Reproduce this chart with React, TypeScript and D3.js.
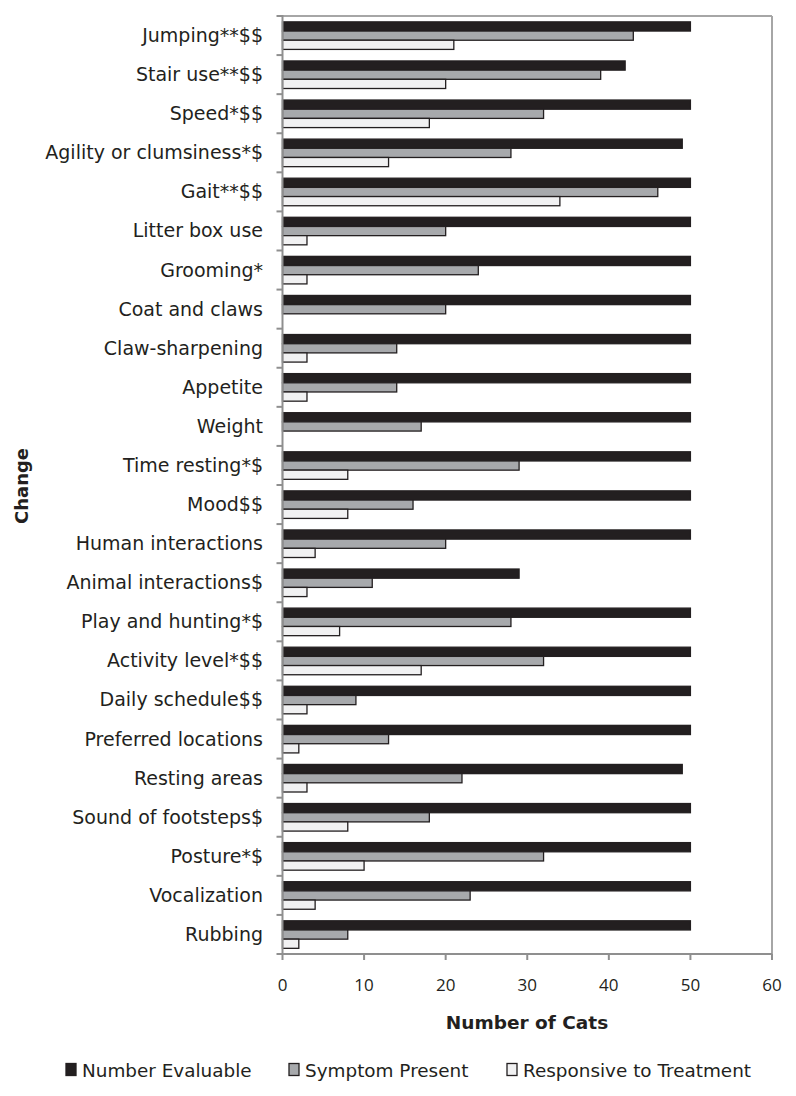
import React from "react";
import * as d3 from "d3";

const categories = [
  "Jumping**$$",
  "Stair use**$$",
  "Speed*$$",
  "Agility or clumsiness*$",
  "Gait**$$",
  "Litter box use",
  "Grooming*",
  "Coat and claws",
  "Claw-sharpening",
  "Appetite",
  "Weight",
  "Time resting*$",
  "Mood$$",
  "Human interactions",
  "Animal interactions$",
  "Play and hunting*$",
  "Activity level*$$",
  "Daily schedule$$",
  "Preferred locations",
  "Resting areas",
  "Sound of footsteps$",
  "Posture*$",
  "Vocalization",
  "Rubbing",
];

const numberEvaluable = [50, 42, 50, 49, 50, 50, 50, 50, 50, 50, 50, 50, 50, 50, 29, 50, 50, 50, 50, 49, 50, 50, 50, 50];
const symptomPresent = [43, 39, 32, 28, 46, 20, 24, 20, 14, 14, 17, 29, 16, 20, 11, 28, 32, 9, 13, 22, 18, 32, 23, 8];
const responsive = [21, 20, 18, 13, 34, 3, 3, 0, 3, 3, 0, 8, 8, 4, 3, 7, 17, 3, 2, 3, 8, 10, 4, 2];

const seriesNames = ["Number Evaluable", "Symptom Present", "Responsive to Treatment"];
const seriesValues = [numberEvaluable, symptomPresent, responsive];
const seriesColors = ["#231f20", "#a7a9ac", "#f1f1f2"];
const xTicks = [0, 10, 20, 30, 40, 50, 60];

const FONT = "'DejaVu Sans', Verdana, sans-serif";

export default function App() {
  const left = 282.5, right = 772, top = 16, bottom = 954;
  const x = d3.scaleLinear().domain([0, 60]).range([left, right]);
  const y = d3.scaleBand<string>().domain(categories).range([top, bottom]).padding(0);
  const bw = y.bandwidth();
  const inner = d3.scaleBand<string>().domain(seriesNames).range([bw * 0.15, bw * 0.855]).padding(0);

  const boundaries = d3.range(categories.length + 1).map((i) => top + i * bw);
  const legendX = [66, 289, 507];

  return (
    <div style={{ position: "absolute", left: 0, top: 0 }}>
      <svg width={796} height={1096} style={{ display: "block", background: "#fff" }}>
        {/* frame */}
        <line x1={left} x2={right} y1={top} y2={top} stroke="#a6a6a6" strokeWidth={2} />
        <line x1={right} x2={right} y1={top} y2={bottom} stroke="#a6a6a6" strokeWidth={2} />
        {/* bars */}
        {categories.map((c, i) => (
          <g key={c}>
            {seriesNames.map((s, k) => {
              const v = seriesValues[k][i];
              if (v <= 0) return null;
              return (
                <rect
                  key={s}
                  x={x(0)}
                  y={(y(c) as number) + (inner(s) as number)}
                  width={x(v) - x(0)}
                  height={inner.bandwidth()}
                  fill={seriesColors[k]}
                  stroke="#231f20"
                  strokeWidth={1.3}
                />
              );
            })}
          </g>
        ))}
        {/* axes */}
        <line x1={left} x2={left} y1={top - 1} y2={bottom} stroke="#8f8f8f" strokeWidth={2} />
        <line x1={left} x2={right} y1={bottom} y2={bottom} stroke="#8f8f8f" strokeWidth={2} />
        {boundaries.map((b, i) => (
          <line key={i} x1={left - 6} x2={left} y1={b} y2={b} stroke="#8f8f8f" strokeWidth={2} />
        ))}
        {xTicks.map((t) => (
          <g key={t}>
            <line x1={x(t)} x2={x(t)} y1={bottom} y2={bottom + 6} stroke="#8f8f8f" strokeWidth={2} />
            <text x={x(t)} y={bottom + 37} textAnchor="middle" fontFamily="'Open Sans', sans-serif" fontSize={17} fill="#231f20">
              {t}
            </text>
          </g>
        ))}
        {categories.map((c) => (
          <text
            key={c}
            x={263}
            y={(y(c) as number) + bw / 2 + 6.5}
            textAnchor="end"
            fontFamily={FONT}
            fontSize={19}
            fill="#231f20"
          >
            {c}
          </text>
        ))}
        <text x={527} y={1029} textAnchor="middle" fontFamily={FONT} fontSize={18.5} fontWeight="bold" fill="#231f20">
          Number of Cats
        </text>
        <text
          transform="translate(28,486) rotate(-90)"
          textAnchor="middle"
          fontFamily={FONT}
          fontSize={18}
          fontWeight="bold"
          fill="#231f20"
        >
          Change
        </text>
        {/* legend */}
        {seriesNames.map((s, k) => (
          <g key={s}>
            <rect x={legendX[k]} y={1063.5} width={10} height={12} fill={seriesColors[k]} stroke="#231f20" strokeWidth={1.3} />
            <text x={legendX[k] + 16} y={1077} fontFamily={FONT} fontSize={18.4} fill="#231f20">
              {s}
            </text>
          </g>
        ))}
      </svg>
    </div>
  );
}
